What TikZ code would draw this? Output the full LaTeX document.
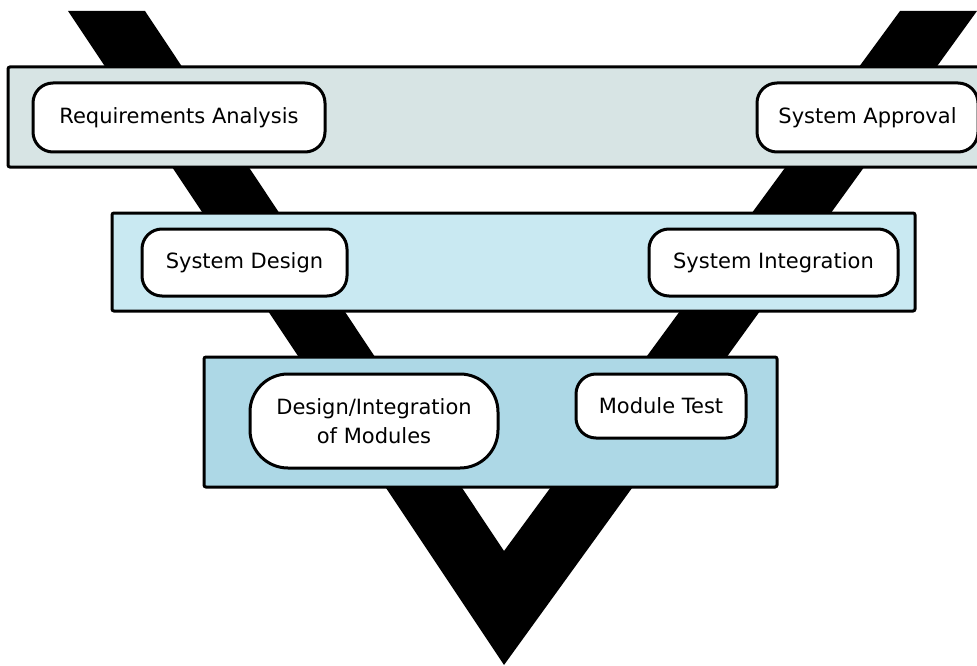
\documentclass[tikz,border=0pt]{standalone}
\usepackage{fontspec}
\setmainfont{DejaVu Sans}
\usepackage{tikz}
\usetikzlibrary{positioning}

\definecolor{bandtop}{HTML}{D7E4E4}
\definecolor{bandmid}{HTML}{C9E9F2}
\definecolor{bandlow}{HTML}{ADD8E6}

\begin{document}
\begin{tikzpicture}[
 x=1pt,y=-1pt,
 band/.style={draw=black,line width=3pt,rounded corners=2pt,inner sep=0pt},
 stage/.style={draw=black,line width=3pt,fill=white,rounded corners=20pt,
 align=center,inner sep=0pt,font=\fontsize{21}{29}\selectfont}]
\useasboundingbox (0,0) rectangle (977,666);
% the V behind the three levels
\fill[black] (68,11) -- (504,665) -- (977,11) -- (900,11) -- (504,551) -- (145,11) -- cycle;
% levels
\node[band,fill=bandtop,minimum width=1000,minimum height=100] (lvlone) at (508,117) {};
\node[band,fill=bandmid,minimum width=803,minimum height=98] (lvltwo) at (513.5,262) {};
\node[band,fill=bandlow,minimum width=573,minimum height=130] (lvlthree) at (490.5,422) {};
% stages, left side down and right side up
\node[stage,minimum width=292,minimum height=69] (req) at (179,117.5) {Requirements Analysis};
\node[stage,minimum width=221,minimum height=69] (approval) at (867.5,117.5) {System Approval};
\node[stage,minimum width=205,minimum height=67] (sysdesign) at (244.5,262.5) {System Design};
\node[stage,minimum width=249,minimum height=67] (sysint) at (773.5,262.5) {System Integration};
\node[stage,rounded corners=38pt,minimum width=248,minimum height=94] (moddesign) at (374,421) {Design/Integration\\of Modules};
\node[stage,minimum width=170,minimum height=64] (modtest) at (661,406) {Module Test};
\end{tikzpicture}
\end{document}
